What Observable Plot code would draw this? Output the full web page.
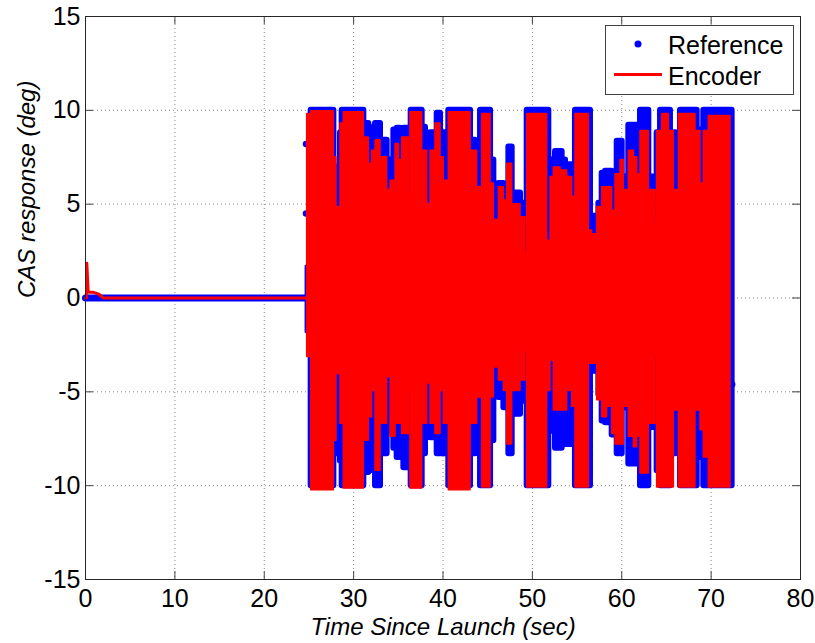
<!DOCTYPE html>
<html>
<head>
<meta charset="utf-8">
<script src="https://cdn.jsdelivr.net/npm/d3@7"></script>
<script src="https://cdn.jsdelivr.net/npm/@observablehq/plot@0.6"></script>
<style>
  html, body { margin: 0; padding: 0; background: #fff; }
  #wrap { position: relative; width: 815px; height: 643px; font-family: "Liberation Sans", Arial, sans-serif; }
  #legend { position: absolute; left: 605px; top: 25px; }
</style>
</head>
<body>
<div id="wrap">
  <div id="chart"></div>
  <svg id="legend" width="189" height="70" xmlns="http://www.w3.org/2000/svg"></svg>
</div>
<script>
// ---- axis ticks ----
const xTicks = [0, 10, 20, 30, 40, 50, 60, 70, 80];
const yTicks = [-15, -10, -5, 0, 5, 10, 15];

// ---- series names ----
const seriesNames = ["Reference", "Encoder"];

// ---- pre-launch segment ----
const refPreT = [0, 24.68];
const refPreV = [0, 0];
const refSpikeT = [24.68, 24.68];
const refSpikeV = [1.7, -1.8];
const refScatterT = [24.68, 24.68, 72.35];
const refScatterV = [8.2, 4.5, -4.6];

const encPreT = [0, 0.1, 0.15, 0.3, 0.9, 1.5, 2.0, 24.8];
const encPreV = [0, 0, 1.85, 0.3, 0.3, 0.2, 0, 0];

// ---- Reference envelope (segment start times, upper, lower) ----
const refT = [25.25, 27.79, 28.08, 28.53, 28.72, 31.14, 31.70, 32.26, 32.45, 33.01, 33.75, 34.13, 34.50, 34.87, 35.25, 35.62, 36.18, 36.44, 37.67, 38.04, 38.60, 39.35, 39.72, 40.28, 40.65, 43.08, 43.64, 44.20, 45.32, 45.69, 46.25, 46.81, 47.37, 47.74, 48.67, 49.23, 49.42, 51.84, 52.21, 52.59, 53.33, 53.71, 54.64, 54.82, 56.50, 56.88, 57.44, 57.81, 58.18, 58.93, 59.49, 60.05, 60.79, 61.72, 62.10, 63.03, 63.96, 64.34, 65.45, 66.06, 66.57, 68.44, 68.81, 69.18, 72.35];
const refHi = [10, 7.0, 5.6, 8.8, 10, 9.3, 8.6, 9.1, 9.3, 8.4, 7.0, 7.35, 8.95, 9.05, 8.6, 9.05, 8.25, 10, 9.1, 7.5, 8.8, 9.85, 8.8, 7.5, 10, 8.4, 7.7, 10, 7.35, 4.9, 6.1, 5.6, 8.05, 5.6, 5.05, 2.4, 10, 5.9, 7.35, 7.8, 7.35, 7.1, 5.6, 10, 4.0, 4.35, 5.05, 6.65, 6.75, 6.3, 8.35, 6.45, 9.2, 8.4, 10, 6.45, 8.8, 10, 8.8, 6.65, 10, 8.95, 8.25, 10, 10];
const refLo = [-10, -8.3, -5.5, -8.7, -10, -9.3, -8.3, -9.2, -10, -8.3, -6.7, -7.1, -8.0, -8.5, -8.15, -9.05, -6.55, -10, -8.3, -6.9, -7.45, -8.3, -8.3, -7.45, -10, -8.3, -7.45, -10, -7.6, -5.15, -5.3, -5.85, -8.3, -6.2, -5.5, -2.85, -10, -5.65, -7.1, -8.0, -6.55, -7.8, -4.8, -10, -3.7, -3.9, -5.15, -6.55, -6.65, -7.3, -8.3, -5.85, -8.85, -8.5, -10, -6.9, -9.2, -10, -8.3, -6.55, -10, -8.5, -8.3, -10, -10];

// ---- Encoder envelope (segment start times, upper, lower) ----
const encT = [24.80, 25.25, 27.79, 28.08, 28.53, 28.90, 31.14, 31.70, 32.07, 32.45, 33.01, 33.75, 34.13, 34.69, 35.06, 35.43, 36.18, 36.36, 37.67, 38.23, 38.60, 39.16, 39.72, 40.09, 40.65, 43.08, 43.82, 44.38, 45.32, 45.69, 46.25, 46.81, 47.18, 47.74, 48.67, 49.23, 49.42, 51.65, 52.03, 52.40, 53.15, 53.89, 54.45, 54.82, 56.32, 56.69, 57.25, 57.81, 58.37, 58.93, 59.30, 59.86, 60.23, 60.79, 61.35, 61.72, 62.10, 63.03, 63.78, 63.96, 64.52, 65.27, 65.83, 66.39, 68.25, 68.81, 69.18, 69.74, 72.17];
const encHi = [9.8, 9.95, 7.5, 4.85, 9.3, 9.9, 8.55, 7.15, 7.85, 8.4, 7.5, 5.75, 6.25, 8.2, 7.35, 8.55, 5.55, 9.9, 7.85, 5.0, 7.85, 9.3, 7.5, 6.25, 9.9, 7.85, 5.9, 9.8, 6.1, 4.15, 5.9, 5.2, 7.15, 5.0, 4.3, 2.35, 9.8, 3.05, 6.45, 6.95, 6.8, 6.45, 5.4, 9.8, 3.6, 3.4, 4.85, 5.9, 5.9, 4.65, 6.6, 7.35, 5.75, 7.85, 7.5, 6.6, 8.9, 5.75, 3.95, 8.9, 9.8, 8.9, 5.75, 9.8, 8.9, 6.1, 8.9, 9.7, 9.7];
const encLo = [-3.15, -10.25, -7.6, -4.05, -6.7, -10.15, -7.6, -6.35, -4.95, -9.2, -6.7, -4.2, -7.4, -6.7, -6.7, -7.25, -4.95, -10.15, -6.7, -4.55, -6.7, -7.25, -4.95, -6.7, -10.25, -6.7, -5.3, -10.1, -5.3, -3.7, -4.4, -4.95, -7.8, -4.95, -4.4, -2.8, -10.1, -4.95, -3.35, -6.0, -6.0, -4.95, -5.8, -10.1, -3.5, -3.5, -5.45, -6.35, -5.8, -7.25, -7.8, -7.8, -5.8, -7.4, -7.95, -7.4, -9.35, -6.7, -3.15, -10.1, -10.1, -10.1, -6.0, -10.1, -6.0, -7.05, -8.5, -10.1, -10.1];

const BLUE = "#0000ff", RED = "#ff0000";

const pts = (T, V) => T.map((t, i) => ({t, v: V[i]}));
const env = (T, H, L) => T.map((t, i) => ({t, hi: H[i], lo: L[i]}));

const refEnv = env(refT, refHi, refLo);
const encEnv = env(encT, encHi, encLo);

const fmt = d => String(d); // plain hyphen-minus like the original

const chart = Plot.plot({
  width: 815,
  height: 643,
  marginLeft: 85,
  marginRight: 15,
  marginTop: 16,
  marginBottom: 64,
  style: {fontFamily: "'Liberation Sans', Arial, sans-serif", fontSize: "25px", color: "#000", background: "#fff", overflow: "visible"},
  x: {domain: [0, 80]},
  y: {domain: [-15, 15]},
  marks: [
    Plot.gridX(xTicks.slice(1, -1), {stroke: "#8a8a8a", strokeOpacity: 1, strokeDasharray: "1,3"}),
    Plot.gridY(yTicks.slice(1, -1), {stroke: "#8a8a8a", strokeOpacity: 1, strokeDasharray: "1,3"}),
    Plot.tickX(xTicks, {x: d => d, insetTop: 555, stroke: "#444"}),
    Plot.tickX(xTicks, {x: d => d, insetBottom: 555, stroke: "#444"}),
    Plot.tickY(yTicks, {y: d => d, insetRight: 707, stroke: "#444"}),
    Plot.tickY(yTicks, {y: d => d, insetLeft: 707, stroke: "#444"}),
    Plot.axisX(xTicks, {tickSize: 0, tickPadding: 10, label: null, fontSize: 25, tickFormat: fmt}),
    Plot.axisY(yTicks, {tickSize: 0, tickPadding: 5, label: null, fontSize: 25, tickFormat: fmt}),
    // Reference
    Plot.line(pts(refPreT, refPreV), {x: "t", y: "v", stroke: BLUE, strokeWidth: 7, strokeLinecap: "round"}),
    Plot.line(pts(refSpikeT, refSpikeV), {x: "t", y: "v", stroke: BLUE, strokeWidth: 3, strokeLinecap: "round"}),
    Plot.dot(pts(refScatterT, refScatterV), {x: "t", y: "v", r: 3.3, fill: BLUE}),
    Plot.areaY(refEnv, {x: "t", y1: "lo", y2: "hi", curve: "step-after", fill: BLUE, stroke: BLUE, strokeWidth: 6, strokeLinejoin: "round"}),
    // Encoder
    Plot.line(pts(encPreT, encPreV), {x: "t", y: "v", stroke: RED, strokeWidth: 3}),
    Plot.areaY(encEnv, {x: "t", y1: "lo", y2: "hi", curve: "step-after", fill: RED, stroke: RED, strokeWidth: 1.5}),
    Plot.frame({stroke: "#262626"}),
    Plot.text(["Time Since Launch (sec)"], {text: d => d, frameAnchor: "bottom", dy: 55, fontStyle: "italic", fontSize: 24}),
    Plot.text(["CAS response (deg)"], {text: d => d, frameAnchor: "left", rotate: -90, dx: -58, fontStyle: "italic", fontSize: 24})
  ]
});
document.getElementById("chart").appendChild(chart);

// ---- legend inside the axes ----
const lg = d3.select("#legend");
lg.append("rect").attr("x", 0.5).attr("y", 0.5).attr("width", 188).attr("height", 69)
  .attr("fill", "#fff").attr("stroke", "#404040");
lg.append("circle").attr("cx", 33).attr("cy", 19).attr("r", 3.5).attr("fill", BLUE);
lg.append("line").attr("x1", 9).attr("x2", 57).attr("y1", 49.5).attr("y2", 49.5)
  .attr("stroke", RED).attr("stroke-width", 3);
lg.selectAll("text.lab").data(seriesNames).join("text")
  .attr("class", "lab")
  .attr("x", 63)
  .attr("y", (d, i) => i === 0 ? 28.5 : 59.5)
  .attr("font-family", "'Liberation Sans', Arial, sans-serif")
  .attr("font-size", 25)
  .attr("fill", "#000")
  .text(d => d);
</script>
</body>
</html>
